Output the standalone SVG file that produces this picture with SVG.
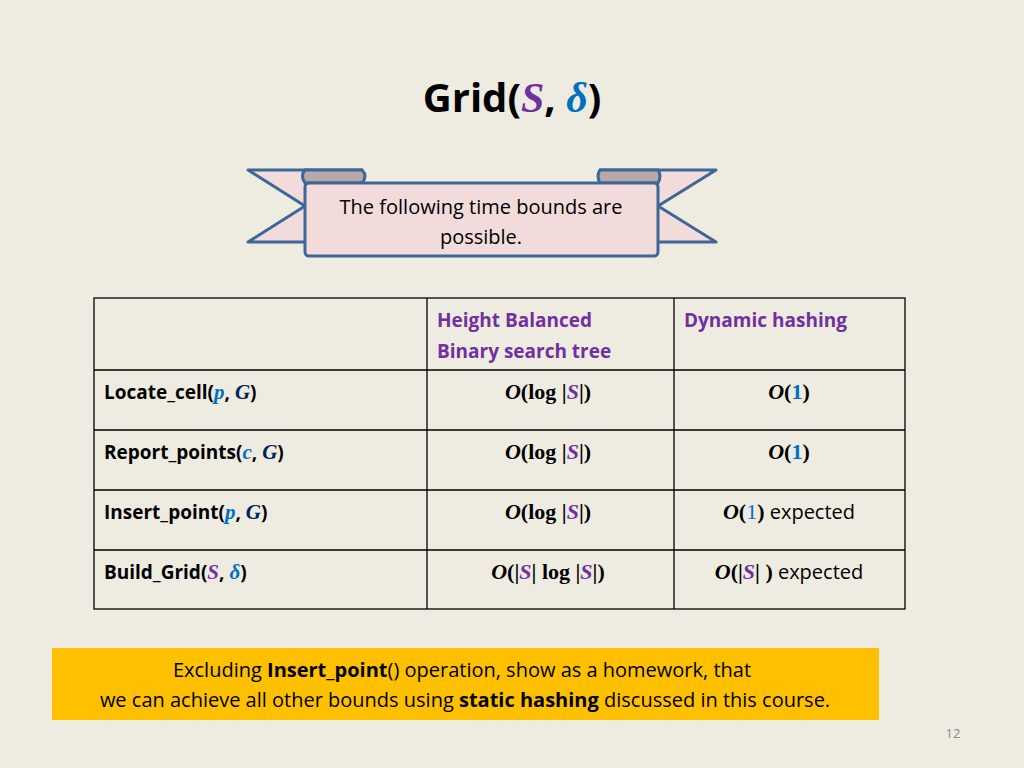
<svg xmlns="http://www.w3.org/2000/svg" width="1024" height="768" viewBox="0 0 1024 768">
<style>
.t{font-family:"Open Sans","Liberation Sans",sans-serif;fill:#000}
.m{font-family:"Liberation Serif",serif;font-weight:bold;font-style:italic}
.r{font-family:"Liberation Serif",serif;font-weight:bold}
.p{fill:#7030A0}.b{fill:#0070C0}.n{fill:#002060}
.cell{fill:none;stroke:#000;stroke-width:1.3}
.rib{fill:#F2DCDB;stroke:#3E6696;stroke-width:3;stroke-linejoin:round}
</style>
<rect width="1024" height="768" fill="#EEECE1"/>
<g id="title"><text x="512" y="112" text-anchor="middle" font-size="40" class="t" font-weight="bold" style="font-family:'Open Sans',sans-serif">Grid(<tspan class="m p" font-size="42">S</tspan>, <tspan class="m b" font-size="42">δ</tspan>)</text></g>
<g id="banner">
<path class="rib" d="M248,170 L362,170 L362,242 L248,242 L305,206 Z"/>
<path class="rib" d="M716,170 L600,170 L600,242 L716,242 L658,206 Z"/>
<path d="M362,170 Q368,176 362,183 L305,183 Q300,176 305,170 Z" fill="#B7A9A9" stroke="#3E6696" stroke-width="3"/>
<path d="M600,170 Q596,176 600,183 L658,183 Q662,176 658,170 Z" fill="#B7A9A9" stroke="#3E6696" stroke-width="3"/>
<rect class="rib" x="305" y="183" width="353" height="73" rx="4"/>
<text class="t" x="481" y="214" font-size="20" text-anchor="middle">The following time bounds are</text>
<text class="t" x="481" y="244" font-size="20" text-anchor="middle">possible.</text>
</g>
<g id="table">
<rect class="cell" x="94" y="298" width="811" height="311"/>
<line class="cell" x1="427" y1="298" x2="427" y2="609"/>
<line class="cell" x1="674" y1="298" x2="674" y2="609"/>
<line class="cell" x1="94" y1="370" x2="905" y2="370"/>
<line class="cell" x1="94" y1="430" x2="905" y2="430"/>
<line class="cell" x1="94" y1="490" x2="905" y2="490"/>
<line class="cell" x1="94" y1="550" x2="905" y2="550"/>
<g font-size="19" font-weight="bold" class="t">
<text x="437" y="327" style="fill:#7030A0">Height Balanced</text>
<text x="437" y="358" style="fill:#7030A0">Binary search tree</text>
<text x="684" y="327" style="fill:#7030A0">Dynamic hashing</text>
</g>
<g font-size="19" class="t" font-weight="bold" style="font-family:'Open Sans',sans-serif">
<text x="104" y="399">Locate_cell(<tspan class="m b" font-size="21">p</tspan>, <tspan class="m n" font-size="21">G</tspan>)</text>
<text x="104" y="459">Report_points(<tspan class="m b" font-size="21">c</tspan>, <tspan class="m n" font-size="21">G</tspan>)</text>
<text x="104" y="519">Insert_point(<tspan class="m b" font-size="21">p</tspan>, <tspan class="m n" font-size="21">G</tspan>)</text>
<text x="104" y="579">Build_Grid(<tspan class="m p" font-size="21">S</tspan>, <tspan class="m b" font-size="21">δ</tspan>)</text>
</g>
<g font-size="22" text-anchor="middle">
<text x="548" y="399"><tspan class="m">O</tspan><tspan class="r">(log |</tspan><tspan class="m p">S</tspan><tspan class="r">|)</tspan></text>
<text x="548" y="459"><tspan class="m">O</tspan><tspan class="r">(log |</tspan><tspan class="m p">S</tspan><tspan class="r">|)</tspan></text>
<text x="548" y="519"><tspan class="m">O</tspan><tspan class="r">(log |</tspan><tspan class="m p">S</tspan><tspan class="r">|)</tspan></text>
<text x="548" y="579"><tspan class="m">O</tspan><tspan class="r">(|</tspan><tspan class="m p">S</tspan><tspan class="r">| log |</tspan><tspan class="m p">S</tspan><tspan class="r">|)</tspan></text>
<text x="789" y="399"><tspan class="m">O</tspan><tspan class="r">(</tspan><tspan class="r b" font-weight="normal">1</tspan><tspan class="r">)</tspan></text>
<text x="789" y="459"><tspan class="m">O</tspan><tspan class="r">(</tspan><tspan class="r b" font-weight="normal">1</tspan><tspan class="r">)</tspan></text>
<text x="789" y="519"><tspan class="m">O</tspan><tspan class="r">(</tspan><tspan class="b" font-family="Liberation Serif">1</tspan><tspan class="r">)</tspan><tspan font-family="Open Sans" font-size="20"> expected</tspan></text>
<text x="789" y="579"><tspan class="m">O</tspan><tspan class="r">(|</tspan><tspan class="m p">S</tspan><tspan class="r">| )</tspan><tspan font-family="Open Sans" font-size="20"> expected</tspan></text>
</g>
</g>
<g id="note">
<rect x="52" y="648" width="827" height="72" fill="#FFC000"/>
<text class="t" x="462" y="677" font-size="20" text-anchor="middle">Excluding <tspan font-weight="bold">Insert_point</tspan>() operation, show as a homework, that</text>
<text class="t" x="465" y="707" font-size="20" text-anchor="middle">we can achieve all other bounds using <tspan font-weight="bold">static hashing</tspan> discussed in this course.</text>
</g>
<text class="t" x="953" y="738" font-size="13" text-anchor="middle" style="fill:#888">12</text>
</svg>
